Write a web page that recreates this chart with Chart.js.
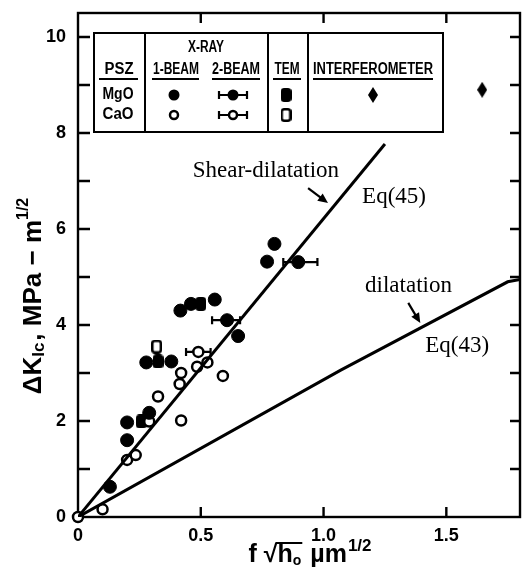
<!DOCTYPE html>
<html><head><meta charset="utf-8">
<script src="https://cdn.jsdelivr.net/npm/chart.js@4.4.1/dist/chart.umd.min.js"></script>
<style>html,body{margin:0;padding:0;background:#fff;}#wrap{width:528px;height:573px;position:relative;}</style>
</head><body><div id="wrap"><canvas id="c" width="528" height="573"></canvas></div>
<script>
// ---------- DATA ----------
// X-ray 1-beam, MgO-PSZ (filled circles)
const mgo1BeamX = [0.13, 0.20, 0.20, 0.29, 0.278, 0.38, 0.417, 0.46, 0.557, 0.652, 0.77, 0.80];
const mgo1BeamY = [0.63, 1.60, 1.97, 2.17, 3.22, 3.24, 4.30, 4.44, 4.53, 3.77, 5.32, 5.69];
// X-ray 1-beam, CaO-PSZ (open circles)
const cao1BeamX = [0.0, 0.10, 0.20, 0.235, 0.29, 0.326, 0.414, 0.42, 0.42, 0.485, 0.527, 0.59];
const cao1BeamY = [0.0, 0.16, 1.19, 1.29, 1.99, 2.51, 2.77, 3.00, 2.01, 3.13, 3.22, 2.94];
// X-ray 2-beam, MgO (filled, with x error bars)
const mgo2BeamX = [0.607, 0.897];
const mgo2BeamY = [4.10, 5.31];
const mgo2BeamXLo = [0.546, 0.836];
const mgo2BeamXHi = [0.660, 0.975];
// X-ray 2-beam, CaO (open, with x error bars)
const cao2BeamX = [0.49];
const cao2BeamY = [3.44];
const cao2BeamXLo = [0.44];
const cao2BeamXHi = [0.54];
// TEM
const mgoTemX = [0.258, 0.326, 0.50];
const mgoTemY = [1.99, 3.24, 4.44];
const caoTemX = [0.32];
const caoTemY = [3.55];
// Interferometer, MgO
const mgoInterfX = [1.646];
const mgoInterfY = [8.90];
// Model lines
const shearLineX = [0, 1.25];
const shearLineY = [0, 7.77];
const dilatLineX = [0, 1.07, 1.75, 1.8];
const dilatLineY = [0, 3.06, 4.90, 4.95];
// Tick labels
const xTickLabels = {0: '0', 0.5: '0.5', 1: '1.0', 1.5: '1.5'};
const yTickLabels = {0: '0', 2: '2', 4: '4', 6: '6', 8: '8', 10: '10'};

// ---------- helpers ----------
const zip = (xs, ys) => xs.map((x, i) => ({x: x, y: ys[i]}));
const zipErr = (xs, ys, lo, hi) => xs.map((x, i) => ({x: x, y: ys[i], xMin: lo[i], xMax: hi[i]}));

function roundRectPath(ctx, x, y, w, h, r) {
  ctx.beginPath();
  ctx.moveTo(x + r, y); ctx.lineTo(x + w - r, y); ctx.quadraticCurveTo(x + w, y, x + w, y + r);
  ctx.lineTo(x + w, y + h - r); ctx.quadraticCurveTo(x + w, y + h, x + w - r, y + h);
  ctx.lineTo(x + r, y + h); ctx.quadraticCurveTo(x, y + h, x, y + h - r);
  ctx.lineTo(x, y + r); ctx.quadraticCurveTo(x, y, x + r, y); ctx.closePath();
}
function makeTem(filled) {
  const c = document.createElement('canvas'); c.width = 11; c.height = 14;
  const g = c.getContext('2d');
  roundRectPath(g, 1.25, 1.25, 8.5, 11.5, 2.5);
  g.fillStyle = filled ? '#000' : '#fff'; g.fill();
  g.lineWidth = 2.5; g.strokeStyle = '#000'; g.stroke();
  return c;
}
function makeDiamond() {
  const c = document.createElement('canvas'); c.width = 10; c.height = 16;
  const g = c.getContext('2d');
  g.beginPath(); g.moveTo(5, 0); g.lineTo(10, 8); g.lineTo(5, 16); g.lineTo(0, 8); g.closePath();
  g.fillStyle = '#000'; g.fill();
  return c;
}
const temFilled = makeTem(true), temOpen = makeTem(false), diamond = makeDiamond();

const FILLED = {pointStyle: 'circle', pointRadius: 6.5, backgroundColor: '#000', borderColor: '#000', pointBorderWidth: 1, showLine: false, clip: false};
const OPEN = {pointStyle: 'circle', pointRadius: 5, backgroundColor: '#fff', borderColor: '#000', pointBorderWidth: 2.5, showLine: false, clip: false};

// ---------- plugins ----------
const errorBarPlugin = {
  id: 'errbars',
  beforeDatasetsDraw(chart) {
    const ctx = chart.ctx, xs = chart.scales.x, ys = chart.scales.y;
    chart.data.datasets.forEach(ds => {
      if (!ds.errorBars) return;
      ds.data.forEach(p => {
        const y = ys.getPixelForValue(p.y), x1 = xs.getPixelForValue(p.xMin), x2 = xs.getPixelForValue(p.xMax);
        ctx.save(); ctx.strokeStyle = '#000'; ctx.lineWidth = 2.2;
        ctx.beginPath(); ctx.moveTo(x1, y); ctx.lineTo(x2, y);
        ctx.moveTo(x1, y - 4); ctx.lineTo(x1, y + 4); ctx.moveTo(x2, y - 4); ctx.lineTo(x2, y + 4);
        ctx.stroke(); ctx.restore();
      });
    });
  }
};

const framePlugin = {
  id: 'frame',
  beforeDatasetsDraw(chart) {
    const ctx = chart.ctx, a = chart.chartArea, xs = chart.scales.x, ys = chart.scales.y;
    ctx.save(); ctx.strokeStyle = '#000'; ctx.lineWidth = 2.4;
    ctx.strokeRect(a.left, a.top, a.right - a.left, a.bottom - a.top);
    ctx.beginPath();
    ys.ticks.forEach(t => {
      if (!Number.isInteger(t.value) || t.value === 0) return;
      const y = ys.getPixelForValue(t.value);
      ctx.moveTo(a.left, y); ctx.lineTo(a.left + 12, y);
      ctx.moveTo(a.right, y); ctx.lineTo(a.right - 10, y);
    });
    xs.ticks.forEach(t => {
      if (!(t.value in xTickLabels) || t.value === 0) return;
      const x = xs.getPixelForValue(t.value);
      ctx.moveTo(x, a.bottom); ctx.lineTo(x, a.bottom - 10);
      ctx.moveTo(x, a.top); ctx.lineTo(x, a.top + 10);
    });
    ctx.stroke(); ctx.restore();
  }
};

function fitText(ctx, text, cx, cy, w) {
  const m = ctx.measureText(text).width;
  const s = w / m;
  ctx.save(); ctx.translate(cx, cy); ctx.scale(s, 1);
  ctx.textAlign = 'center'; ctx.textBaseline = 'middle';
  ctx.fillText(text, 0, 0); ctx.restore();
}

const legendPlugin = {
  id: 'psz_legend',
  afterDraw(chart) {
    const ctx = chart.ctx, a = chart.chartArea;
    const ox = a.left - 78, oy = a.top - 13; // legend laid out in page pixels relative to the plot frame
    ctx.save(); ctx.translate(ox, oy);
    ctx.fillStyle = '#fff'; ctx.fillRect(94, 33, 349, 99);
    ctx.strokeStyle = '#000'; ctx.lineWidth = 2;
    ctx.strokeRect(94, 33, 349, 99);
    ctx.beginPath();
    [145, 268, 308].forEach(x => { ctx.moveTo(x, 33); ctx.lineTo(x, 132); });
    ctx.stroke();
    ctx.fillStyle = '#000';
    ctx.font = 'bold 16px "Liberation Sans Narrow", "Liberation Sans", sans-serif';
    fitText(ctx, 'X-RAY', 206, 48, 36);
    fitText(ctx, 'PSZ', 119, 70, 29);
    fitText(ctx, '1-BEAM', 176, 70, 46);
    fitText(ctx, '2-BEAM', 236, 70, 48);
    fitText(ctx, 'TEM', 287, 70, 25);
    fitText(ctx, 'INTERFEROMETER', 373, 70, 120);
    ctx.font = 'bold 16px "Liberation Sans", sans-serif';
    fitText(ctx, 'MgO', 118, 95, 31);
    fitText(ctx, 'CaO', 118, 115, 31);
    ctx.lineWidth = 2;
    ctx.beginPath();
    [[99, 138], [152, 199], [212, 260], [273, 301], [313, 433]].forEach(s => { ctx.moveTo(s[0], 79); ctx.lineTo(s[1], 79); });
    ctx.stroke();
    // symbols
    ctx.beginPath(); ctx.arc(174, 95, 5.5, 0, Math.PI * 2); ctx.fill();
    ctx.beginPath(); ctx.arc(174, 115, 4, 0, Math.PI * 2); ctx.lineWidth = 2.5; ctx.stroke();
    [[95, true], [115, false]].forEach(r => {
      const y = r[0];
      ctx.lineWidth = 2.2; ctx.beginPath();
      ctx.moveTo(219, y); ctx.lineTo(247, y); ctx.moveTo(219, y - 4); ctx.lineTo(219, y + 4); ctx.moveTo(247, y - 4); ctx.lineTo(247, y + 4);
      ctx.stroke();
      ctx.beginPath(); ctx.arc(233, y, r[1] ? 5.5 : 4, 0, Math.PI * 2);
      if (r[1]) { ctx.fill(); } else { ctx.fillStyle = '#fff'; ctx.fill(); ctx.fillStyle = '#000'; ctx.lineWidth = 2.5; ctx.stroke(); }
    });
    ctx.drawImage(temFilled, 286 - 5.5, 95 - 7);
    ctx.drawImage(temOpen, 286 - 5.5, 115 - 7);
    ctx.drawImage(diamond, 373 - 5, 95 - 8);
    ctx.restore();
  }
};

const annotTexts = [
  {text: 'Shear-dilatation', x: 0.467, y: 7.08},
  {text: 'Eq(45)', x: 1.157, y: 6.54},
  {text: 'dilatation', x: 1.169, y: 4.69},
  {text: 'Eq(43)', x: 1.414, y: 3.44}
];
const annotArrows = [
  {x1: 0.937, y1: 6.85, x2: 1.018, y2: 6.54},
  {x1: 1.345, y1: 4.46, x2: 1.394, y2: 4.04}
];

const annotPlugin = {
  id: 'annots',
  afterDraw(chart) {
    const ctx = chart.ctx, xs = chart.scales.x, ys = chart.scales.y;
    ctx.save(); ctx.fillStyle = '#000'; ctx.strokeStyle = '#000';
    ctx.font = '23px "Liberation Serif", "Times New Roman", serif';
    ctx.textAlign = 'left'; ctx.textBaseline = 'alphabetic';
    annotTexts.forEach(t => ctx.fillText(t.text, xs.getPixelForValue(t.x), ys.getPixelForValue(t.y)));
    annotArrows.forEach(ar => {
      const x1 = xs.getPixelForValue(ar.x1), y1 = ys.getPixelForValue(ar.y1);
      const x2 = xs.getPixelForValue(ar.x2), y2 = ys.getPixelForValue(ar.y2);
      const ang = Math.atan2(y2 - y1, x2 - x1), L = 10, W = 4.5;
      ctx.lineWidth = 2.2; ctx.beginPath(); ctx.moveTo(x1, y1);
      ctx.lineTo(x2 - L * 0.7 * Math.cos(ang), y2 - L * 0.7 * Math.sin(ang)); ctx.stroke();
      ctx.beginPath(); ctx.moveTo(x2, y2);
      ctx.lineTo(x2 - L * Math.cos(ang) + W * Math.sin(ang), y2 - L * Math.sin(ang) - W * Math.cos(ang));
      ctx.lineTo(x2 - L * Math.cos(ang) - W * Math.sin(ang), y2 - L * Math.sin(ang) + W * Math.cos(ang));
      ctx.closePath(); ctx.fill();
    });
    ctx.restore();
  }
};

function drawParts(ctx, parts, startX, baseY) {
  let x = startX;
  parts.forEach(p => {
    ctx.font = p.font; ctx.fillText(p.text, x, baseY + (p.dy || 0));
    p._x = x; x += ctx.measureText(p.text).width + (p.gap || 0); p._end = x;
  });
}
function partsWidth(ctx, parts) {
  let w = 0; parts.forEach(p => { ctx.font = p.font; w += ctx.measureText(p.text).width + (p.gap || 0); });
  return w;
}

const titlesPlugin = {
  id: 'titles',
  afterDraw(chart) {
    const ctx = chart.ctx, a = chart.chartArea;
    ctx.save(); ctx.fillStyle = '#000'; ctx.textAlign = 'left'; ctx.textBaseline = 'alphabetic';
    // Y title
    const big = 'bold 26px "Liberation Sans", sans-serif';
    const yParts = [
      {text: 'ΔK', font: big},
      {text: 'Ic', font: 'bold 17px "Liberation Sans", sans-serif', dy: 3, gap: 2},
      {text: ', MPa − m', font: big},
      {text: '1/2', font: 'bold 16px "Liberation Sans", sans-serif', dy: -13}
    ];
    ctx.save();
    ctx.translate(30, 296);
    ctx.rotate(-Math.PI / 2);
    const yw = partsWidth(ctx, yParts);
    drawParts(ctx, yParts, -yw / 2, 11);
    ctx.restore();
    // X title
    const xb = 'bold 25px "Liberation Sans", sans-serif';
    const xParts = [
      {text: 'f ', font: xb},
      {text: '√', font: xb},
      {text: 'h', font: xb},
      {text: 'o', font: 'bold 14px "Liberation Sans", sans-serif', dy: 3, gap: 2},
      {text: ' µm', font: xb, gap: 1},
      {text: '1/2', font: 'bold 17px "Liberation Sans", sans-serif', dy: -11}
    ];
    const xw = partsWidth(ctx, xParts);
    const cx = (a.left + a.right) / 2 + 11;
    const by = a.bottom + 45;
    drawParts(ctx, xParts, cx - xw / 2, by);
    // radical overline over h0
    ctx.font = xb;
    const asc = ctx.measureText('√').actualBoundingBoxAscent;
    ctx.lineWidth = 2; ctx.beginPath();
    ctx.moveTo(xParts[1]._end - 1.5, by - asc + 1); ctx.lineTo(xParts[3]._end - 1, by - asc + 1); ctx.stroke();
    ctx.restore();
  }
};

// ---------- chart ----------
const tickFont = {family: '"Liberation Sans", sans-serif', size: 18, weight: 'bold'};
new Chart(document.getElementById('c'), {
  type: 'scatter',
  data: {
    datasets: [
      {label: 'Shear-dilatation Eq(45)', data: zip(shearLineX, shearLineY), showLine: true, borderColor: '#000', borderWidth: 3, pointRadius: 0, fill: false},
      {label: 'dilatation Eq(43)', data: zip(dilatLineX, dilatLineY), showLine: true, borderColor: '#000', borderWidth: 3, pointRadius: 0, fill: false},
      Object.assign({label: 'MgO X-ray 1-beam', data: zip(mgo1BeamX, mgo1BeamY)}, FILLED),
      Object.assign({label: 'CaO X-ray 1-beam', data: zip(cao1BeamX, cao1BeamY)}, OPEN),
      Object.assign({label: 'MgO X-ray 2-beam', data: zipErr(mgo2BeamX, mgo2BeamY, mgo2BeamXLo, mgo2BeamXHi), errorBars: true}, FILLED),
      Object.assign({label: 'CaO X-ray 2-beam', data: zipErr(cao2BeamX, cao2BeamY, cao2BeamXLo, cao2BeamXHi), errorBars: true}, OPEN),
      {label: 'MgO TEM', data: zip(mgoTemX, mgoTemY), pointStyle: temFilled, pointRadius: 7, showLine: false},
      {label: 'CaO TEM', data: zip(caoTemX, caoTemY), pointStyle: temOpen, pointRadius: 7, showLine: false},
      {label: 'MgO Interferometer', data: zip(mgoInterfX, mgoInterfY), pointStyle: diamond, pointRadius: 8, showLine: false}
    ]
  },
  options: {
    responsive: false, devicePixelRatio: 1, animation: false,
    layout: {padding: {top: 13, right: 8, left: 0, bottom: 0}, autoPadding: false},
    plugins: {legend: {display: false}, tooltip: {enabled: false}},
    scales: {
      x: {
        type: 'linear', min: 0, max: 1.8,
        grid: {display: false, drawTicks: false}, border: {display: false},
        ticks: {stepSize: 0.5, color: '#000', font: tickFont, padding: 8, maxRotation: 0, autoSkip: false,
          callback: v => (v in xTickLabels ? xTickLabels[v] : '')},
        afterFit: s => { s.height = 56; s.paddingLeft = 0; s.paddingRight = 0; }
      },
      y: {
        type: 'linear', min: 0, max: 10.5,
        grid: {display: false, drawTicks: false}, border: {display: false},
        ticks: {stepSize: 1, color: '#000', font: tickFont, padding: 12, autoSkip: false,
          callback: v => (v in yTickLabels ? yTickLabels[v] : '')},
        afterFit: s => { s.width = 78; s.paddingTop = 0; s.paddingBottom = 0; }
      }
    }
  },
  plugins: [errorBarPlugin, framePlugin, legendPlugin, annotPlugin, titlesPlugin]
});
</script>
</body></html>
